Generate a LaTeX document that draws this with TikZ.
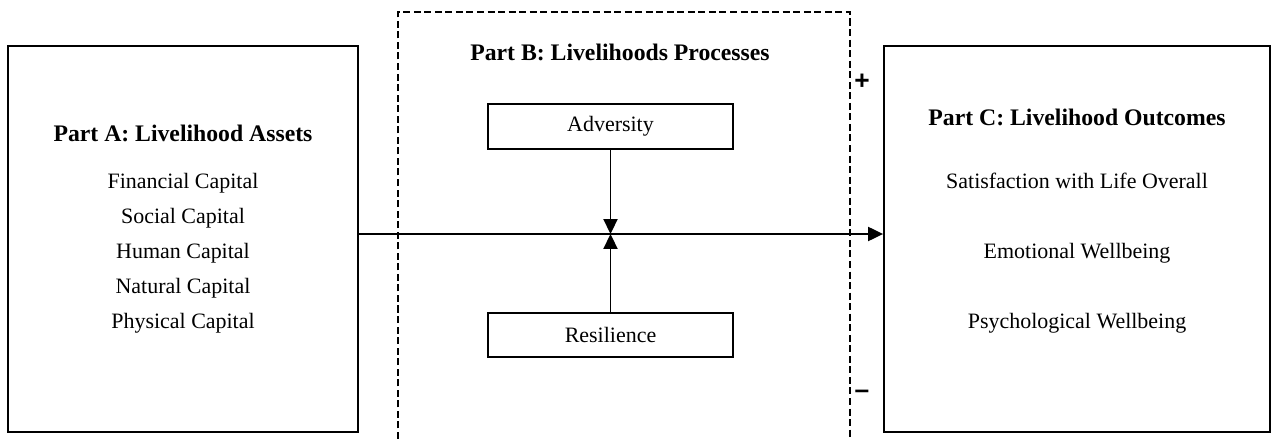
\documentclass[tikz,border=0pt]{standalone}
\usepackage{fontspec}
\setmainfont{Liberation Serif}
\setsansfont{Liberation Sans}
\usetikzlibrary{arrows.meta, positioning}

\begin{document}
\begin{tikzpicture}[x=0.02cm, y=-0.02cm, font=\fontsize{12.5}{14}\selectfont]
\tikzstyle{part} = [draw, line width=1.1pt, inner sep=0pt]
\tikzstyle{proc} = [draw, line width=1.1pt, minimum width=4.9cm, minimum height=0.89cm, inner sep=0pt]
\tikzstyle{item} = [inner sep=0pt, anchor=base]
\tikzstyle{title} = [item, font=\fontsize{13.5}{15}\selectfont\bfseries]
\tikzstyle{connect} = [-{Triangle[length=8.5pt, width=8pt]}, line width=1pt]
\useasboundingbox (0,0) rectangle (1277,439);
  % three parts
  \node[part, minimum width=7cm, minimum height=7.72cm] (partA) at (183,239) {};
  \node[part, minimum width=7.72cm, minimum height=7.72cm] (partC) at (1077,239) {};
  \draw[line width=1.1pt, dash pattern=on 4pt off 2pt] (398,439) -- (398,12) -- (850,12) -- (850,439);
  % part A
  \node[title] (titleA) at (183,141) {Part A: Livelihood Assets};
  \node[item] (fin) at (183,188) {Financial Capital};
  \node[item] (soc) at (183,223) {Social Capital};
  \node[item] (hum) at (183,258) {Human Capital};
  \node[item] (nat) at (183,293) {Natural Capital};
  \node[item] (phy) at (183,328) {Physical Capital};
  % part B
  \node[title] (titleB) at (620,61) {Part B: Livelihoods Processes};
  \node[proc] (adv) at (610.5,126.5) {Adversity};
  \node[proc] (res) at (610.5,335) {Resilience};
  % part C
  \node[title] (titleC) at (1077,126) {Part C: Livelihood Outcomes};
  \node[item] (sat) at (1077,188) {Satisfaction with Life Overall};
  \node[item] (emo) at (1077,258) {Emotional Wellbeing};
  \node[item] (psy) at (1077,328) {Psychological Wellbeing};
  % signs
  \node[font=\fontsize{15}{15}\sffamily\bfseries] (plus) at (862,82) {+};
  \node[font=\fontsize{15}{15}\sffamily\bfseries] (minus) at (862,394) {--};
  % connectors
  \coordinate (mid) at (610.5,234);
  \draw[connect] (partA.east |- mid) -- (partC.west |- mid);
  \draw[connect] (adv) -- (mid);
  \draw[connect] (res) -- (mid);
\end{tikzpicture}
\end{document}
